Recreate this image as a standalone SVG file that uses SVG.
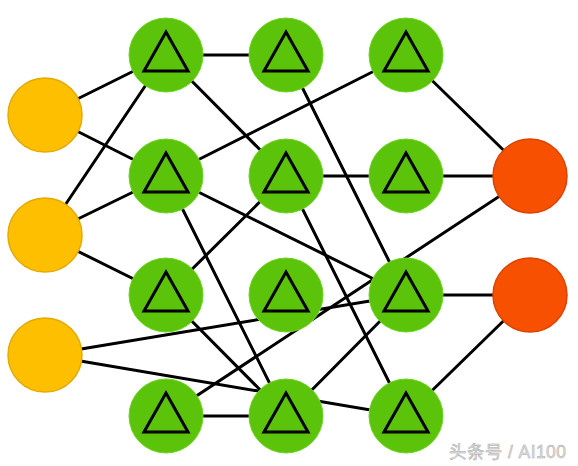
<svg xmlns="http://www.w3.org/2000/svg" width="578" height="466" viewBox="0 0 578 466">
<style>
.e{stroke:#000;stroke-width:3;fill:none;stroke-linecap:round}
.in{fill:#FDBF00;stroke:#E3AA00;stroke-width:1.5}
.hid{fill:#5CC30B;stroke:#6ED51E;stroke-width:1}
.out{fill:#F75000;stroke:#D94500;stroke-width:1.5}
.tri{fill:none;stroke:#000;stroke-width:3;stroke-linejoin:miter}
.wm{font-family:"Liberation Sans","Noto Sans CJK SC",sans-serif;font-size:17.5px;fill:#e2e2e2;stroke:#a8a8a8;stroke-width:0.5}
</style>
<defs>
<path id="t" class="tri" d="M0,-23 L22,16 L-22,16 Z"/>
</defs>
<rect width="578" height="466" fill="#fff"/>
<g id="connectors">
<line class="e" x1="45" y1="115" x2="166" y2="55"/>
<line class="e" x1="45" y1="115" x2="166" y2="176"/>
<line class="e" x1="45" y1="235" x2="166" y2="55"/>
<line class="e" x1="45" y1="235" x2="166" y2="176"/>
<line class="e" x1="45" y1="235" x2="166" y2="295"/>
<line class="e" x1="45" y1="355" x2="406" y2="295"/>
<line class="e" x1="45" y1="355" x2="406" y2="416"/>
<line class="e" x1="166" y1="55" x2="286" y2="55"/>
<line class="e" x1="166" y1="55" x2="286" y2="176"/>
<line class="e" x1="166" y1="176" x2="406" y2="55"/>
<line class="e" x1="166" y1="176" x2="406" y2="295"/>
<line class="e" x1="166" y1="176" x2="286" y2="416"/>
<line class="e" x1="166" y1="295" x2="286" y2="176"/>
<line class="e" x1="166" y1="295" x2="286" y2="416"/>
<line class="e" x1="166" y1="416" x2="286" y2="416"/>
<line class="e" x1="166" y1="416" x2="530" y2="176"/>
<line class="e" x1="286" y1="55" x2="406" y2="295"/>
<line class="e" x1="286" y1="176" x2="406" y2="176"/>
<line class="e" x1="286" y1="176" x2="406" y2="416"/>
<line class="e" x1="286" y1="416" x2="406" y2="295"/>
<line class="e" x1="406" y1="55" x2="530" y2="176"/>
<line class="e" x1="406" y1="176" x2="530" y2="176"/>
<line class="e" x1="406" y1="295" x2="530" y2="295"/>
<line class="e" x1="406" y1="416" x2="530" y2="295"/>
</g>
<g id="in1"><circle class="in" cx="45" cy="115" r="37"/></g>
<g id="in2"><circle class="in" cx="45" cy="235" r="37"/></g>
<g id="in3"><circle class="in" cx="45" cy="355" r="37"/></g>
<g id="h11"><circle class="hid" cx="166" cy="55" r="37"/><use href="#t" x="166" y="55"/></g>
<g id="h12"><circle class="hid" cx="166" cy="176" r="37"/><use href="#t" x="166" y="176"/></g>
<g id="h13"><circle class="hid" cx="166" cy="295" r="37"/><use href="#t" x="166" y="295"/></g>
<g id="h14"><circle class="hid" cx="166" cy="416" r="37"/><use href="#t" x="166" y="416"/></g>
<g id="h21"><circle class="hid" cx="286" cy="55" r="37"/><use href="#t" x="286" y="55"/></g>
<g id="h22"><circle class="hid" cx="286" cy="176" r="37"/><use href="#t" x="286" y="176"/></g>
<g id="h23"><circle class="hid" cx="286" cy="295" r="37"/><use href="#t" x="286" y="295"/></g>
<g id="h24"><circle class="hid" cx="286" cy="416" r="37"/><use href="#t" x="286" y="416"/></g>
<g id="h31"><circle class="hid" cx="406" cy="55" r="37"/><use href="#t" x="406" y="55"/></g>
<g id="h32"><circle class="hid" cx="406" cy="176" r="37"/><use href="#t" x="406" y="176"/></g>
<g id="h33"><circle class="hid" cx="406" cy="295" r="37"/><use href="#t" x="406" y="295"/></g>
<g id="h34"><circle class="hid" cx="406" cy="416" r="37"/><use href="#t" x="406" y="416"/></g>
<g id="out1"><circle class="out" cx="530" cy="176" r="37"/></g>
<g id="out2"><circle class="out" cx="530" cy="295" r="37"/></g>
<text class="wm" x="449" y="458" textLength="117">头条号 / AI100</text>
</svg>
